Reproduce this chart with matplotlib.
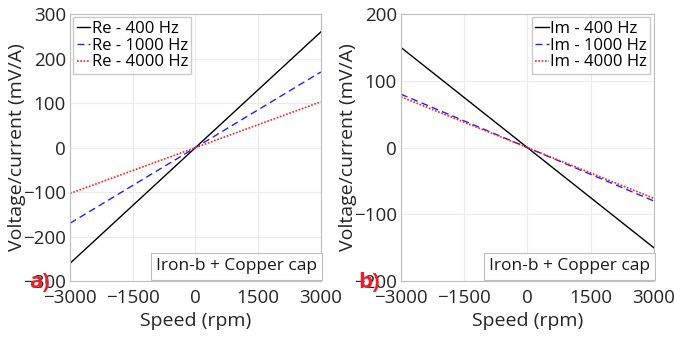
import matplotlib
matplotlib.use('Agg')
import matplotlib.pyplot as plt

plt.rcParams['font.family'] = ['Open Sans', 'DejaVu Sans']

speed = [-3000, -1500, 0, 1500, 3000]

re_400 = [-260, -130, 0, 130, 260]
re_1000 = [-170, -85, 0, 85, 170]
re_4000 = [-103, -51.5, 0, 51.5, 103]

im_400 = [150, 75, 0, -75, -150]
im_1000 = [80, 40, 0, -40, -80]
im_4000 = [76, 38, 0, -38, -76]

xticks = [-3000, -1500, 0, 1500, 3000]

fig = plt.figure(figsize=(6.74, 3.37), dpi=100)
ax1 = fig.add_axes([0.104, 0.166, 0.372, 0.792])
ax2 = fig.add_axes([0.595, 0.166, 0.375, 0.792])

def style(ax, ylim, yticks):
    ax.set_xlim(-3000, 3000)
    ax.set_ylim(*ylim)
    ax.set_xticks(xticks)
    ax.set_yticks(yticks)
    ax.grid(True, color='#ebebeb', linewidth=0.8)
    ax.set_axisbelow(True)
    for s in ax.spines.values():
        s.set_color('#bdbdbd')
        s.set_linewidth(0.8)
    ax.tick_params(length=0, labelsize=13.5, colors='#262626', pad=3)
    ax.tick_params(axis='x', pad=6)
    ax.set_xlabel('Speed (rpm)', fontsize=14, color='#262626', labelpad=3)
    ax.set_ylabel('Voltage/current (mV/A)', fontsize=14, color='#262626', labelpad=-2)
    ax.text(0.985, 0.025, 'Iron-b + Copper cap', transform=ax.transAxes, ha='right', va='bottom',
            fontsize=12.5, color='#1a1a1a',
            bbox=dict(boxstyle='square,pad=0.3', fc='white', ec='#bdbdbd', lw=0.8))

ax1.plot(speed, re_400, color='black', lw=1.0, label='Re - 400 Hz')
ax1.plot(speed, re_1000, color='#2020ff', lw=1.0, ls=(0, (5, 3)), label='Re - 1000 Hz')
ax1.plot(speed, re_4000, color='#ff2020', lw=1.2, ls=(0, (1, 1)), label='Re - 4000 Hz')
style(ax1, (-300, 300), [-300, -200, -100, 0, 100, 200, 300])
ax1.legend(loc='upper left', fontsize=12, handlelength=0.8, handletextpad=0.1, borderpad=0.2,
           labelspacing=0.05, fancybox=False, edgecolor='#bdbdbd', borderaxespad=0.2)

ax2.plot(speed, im_400, color='black', lw=1.0, label='Im - 400 Hz')
ax2.plot(speed, im_1000, color='#2020ff', lw=1.0, ls=(0, (5, 3)), label='Im - 1000 Hz')
ax2.plot(speed, im_4000, color='#ff2020', lw=1.2, ls=(0, (1, 1)), label='Im - 4000 Hz')
style(ax2, (-200, 200), [-200, -100, 0, 100, 200])
ax2.legend(loc='upper right', fontsize=12, handlelength=0.8, handletextpad=0.1, borderpad=0.2,
           labelspacing=0.05, fancybox=False, edgecolor='#bdbdbd', borderaxespad=0.2)

fig.text(0.043, 0.163, 'a)', color='#e8202a', fontsize=16, fontweight='bold', ha='left', va='center')
fig.text(0.532, 0.163, 'b)', color='#e8202a', fontsize=16, fontweight='bold', ha='left', va='center')

fig.savefig('out.png', dpi=100)
